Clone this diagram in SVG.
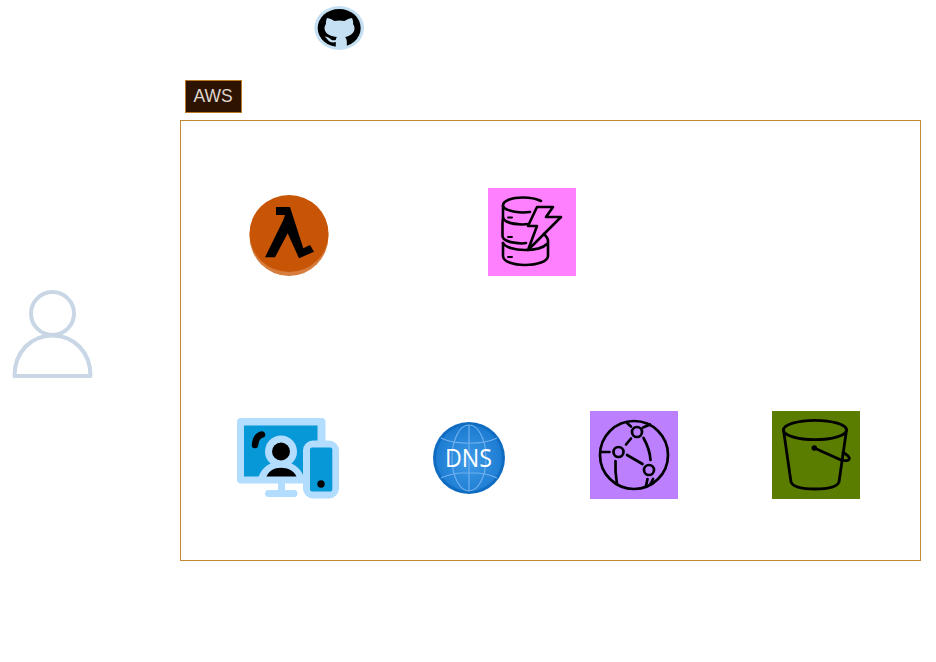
<svg xmlns="http://www.w3.org/2000/svg" width="936" height="662" viewBox="0 0 936 662">
<style>
.ink{fill:none;stroke:#000;stroke-linecap:round;stroke-linejoin:round}
.person{fill:none;stroke:#c8d6e5;stroke-width:4;stroke-linejoin:round}
.light{fill:#b3ddff}
</style>
<rect width="936" height="662" fill="#fff"/>
<g id="connectors"></g>
<g id="aws-boundary"><rect x="180.500" y="120.500" width="740" height="440" fill="none" stroke="#c08a35" stroke-width="1"/></g>
<g id="aws-label"><rect x="185.500" y="80.500" width="56" height="32" fill="#2e1400" stroke="#b97a26" stroke-width="1"/>
<text x="213" y="102" font-family="'Liberation Sans',Arial,sans-serif" font-size="17.500" fill="#ddd6ce" text-anchor="middle">AWS</text></g>
<g id="github">
<ellipse cx="339.200" cy="28" rx="24.800" ry="22" fill="#c5e0f2"/>
<ellipse cx="339.200" cy="28" rx="21.500" ry="19" fill="#000"/>
<path d="M327 18C330 18.500 333 20 334.500 21C337.500 20.300 341 20.300 344.500 21C346 20 349 18.500 352 18C353 20.500 353.500 22.500 353 24C354.500 26 354.800 28 354.300 30C353.300 34 349 36.500 345 37C346 38 346.800 39.500 346.800 41.500L346.800 48C343 48.600 339.500 48.600 335.800 48L335.800 42C332 43 329.500 42 327.500 39.500C326.500 38 325.500 37 324.500 36.500C327 36.500 329 37.500 331 39.500C332.500 40.500 334 40.500 335.800 40C335.800 38.500 336.500 37.800 337 37C331.500 36.500 326 34.500 324.800 30C324.200 28 324.500 26 326 24C325.700 22.500 326 20.500 327 18Z" fill="#c5e0f2"/>
</g>
<g id="lambda">
<ellipse cx="289" cy="236" rx="39.500" ry="40" fill="#d67c3c"/>
<ellipse cx="289" cy="233.500" rx="39.500" ry="38.500" fill="#c75505"/>
<path d="M276 207H290L303.300 248.300L310 245L314 251.700L299 258.300L287.700 233.300L275 257.300H265L283.300 220L285 215H276Z" fill="#000"/>
</g>
<g id="dynamodb">
<rect x="488" y="188" width="88" height="88" fill="#ff80ff"/>
<g class="ink" stroke-width="2.600">
<path d="M541 201C536 198.500 530 197.500 523 197.500C511.500 197.500 503 201 503 205.500C503 209 511 212 523 212.500L530 212"/>
<path d="M503 205.500V217C503 221 510 224 522 224.500L529 224"/>
<path d="M503 218C502.500 220 502.500 222 502.500 224V236C502.500 240 510 243 522 243.500L526 243"/>
<path d="M503 243V256C503 261.500 513 265 525 265C537 265 548 261.500 548 256V241C548 238 546 236 544 234"/>
<path d="M503 243C505 247 514 250 525 250C534 250 543 248 547 244"/>
<path d="M537 207H553L546 217H561L528 250L537 226H528Z"/>
<path d="M508 217.500H512M508 237H512M508 257H512" stroke-width="2"/>
</g>
</g>
<g id="user-devices">
<rect x="237" y="418" width="88.500" height="65.500" rx="4" class="light"/>
<rect x="244" y="425.500" width="73.500" height="51" fill="#0798d8"/>
<rect x="278" y="483" width="7" height="8" class="light"/>
<rect x="265" y="490" width="32.500" height="7" rx="3.500" class="light"/>
<circle cx="281" cy="451.500" r="16" class="light"/>
<circle cx="281" cy="451.500" r="9" fill="#000"/>
<path d="M258.500 477C262 467 270 461.500 281 461.500C292 461.500 300 467 304 477Z" class="light"/>
<path d="M266.500 476.500C269 470.500 274 467.700 281 467.700C288 467.700 294 470.500 296.500 476.500Z" fill="#000"/>
<rect x="303" y="440.500" width="36" height="58" rx="10" class="light"/>
<rect x="310" y="447.500" width="22.300" height="44" rx="2" fill="#0798d8"/>
<circle cx="321" cy="484" r="3.700" fill="#000"/>
<path d="M262 434.500C258 435.500 255.500 439 255 445" fill="none" stroke="#000" stroke-width="6.500" stroke-linecap="round"/>
</g>
<g id="dns">
<defs><radialGradient id="dnsGrad" cx="50%" cy="55%" r="55%"><stop offset="0" stop-color="#3f9be8"/><stop offset="1" stop-color="#1a7ad0"/></radialGradient></defs>
<circle cx="469" cy="458" r="36" fill="#0f6cc0"/>
<circle cx="469" cy="458" r="33" fill="url(#dnsGrad)"/>
<g fill="none" stroke="#6fb0ee" stroke-width="1.200">
<ellipse cx="469" cy="458" rx="17" ry="33"/>
<path d="M469 425V491M441 438C455 445 483 445 497 438M441 478C455 471 483 471 497 478"/>
</g>
<text x="468.500" y="467" font-family="'Open Sans','Liberation Sans',sans-serif" font-size="25" fill="#fff" text-anchor="middle" textLength="47" lengthAdjust="spacingAndGlyphs">DNS</text>
</g>
<g id="cloudfront">
<rect x="590" y="411" width="88" height="88" fill="#bc80ff"/>
<g class="ink" stroke-width="2.700">
<circle cx="634" cy="455" r="34"/>
<circle cx="637" cy="432" r="5"/>
<circle cx="618.500" cy="452" r="5"/>
<circle cx="649" cy="470" r="5"/>
<path d="M631 438.500L626 444.500M627 455L642.500 464M643.500 438C647.500 445 650 452 650.500 460M615.500 461C615 470 616 478 617 484M600.500 452H609.500M627 423L631 426.500M643 427.500L650 424.500M647.500 479L646 486M653 479L650.500 484"/>
</g>
</g>
<g id="s3">
<rect x="772" y="411" width="88" height="88" fill="#5a7d00"/>
<g class="ink" stroke-width="2.800">
<ellipse cx="815" cy="430" rx="31.500" ry="9.700"/>
<path d="M783.500 430L791 482C793 487 803 489 815 489C827 489 837 487 839 482L846.500 430"/>
<path d="M814.300 448L841 460C846 461.500 850 460.500 849.300 458C848.500 455.500 846 454 843 452.500"/>
</g>
<circle cx="814.300" cy="448" r="2.800" fill="#000"/>
</g>
<g id="user">
<circle cx="52.500" cy="313.500" r="21.500" class="person"/>
<path d="M14.500 376C14.500 352 31 335.500 52.500 335.500C74 335.500 90.500 352 90.500 376Z" class="person"/>
</g>
</svg>
